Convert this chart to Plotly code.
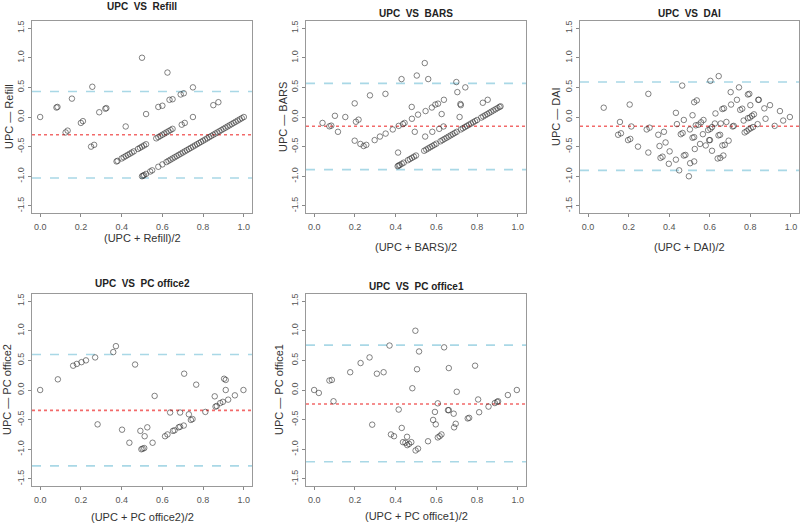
import plotly.graph_objects as go

# ---------------- DATA ----------------
titles = ["UPC  VS  Refill", "UPC  VS  BARS", "UPC  VS  DAI", "UPC  VS  PC office2", "UPC  VS  PC office1"]
x_titles = ["(UPC + Refill)/2", "(UPC + BARS)/2", "(UPC + DAI)/2", "(UPC + PC office2)/2", "(UPC + PC office1)/2"]
y_titles = ["UPC \u2014 Refill", "UPC \u2014 BARS", "UPC \u2014 DAI", "UPC \u2014 PC office2", "UPC \u2014 PC office1"]

x_tickvals = [0.0, 0.2, 0.4, 0.6, 0.8, 1.0]
x_ticktext = ["0.0", "0.2", "0.4", "0.6", "0.8", "1.0"]
y_tickvals = [-1.5, -1.0, -0.5, 0.0, 0.5, 1.0, 1.5]
y_ticktext = ["-1.5", "-1.0", "-0.5", "0.0", "0.5", "1.0", "1.5"]

# Bias (mean difference) and limits of agreement
bias = [-0.30, -0.157, -0.157, -0.343, -0.236]
upper_loa = [0.43, 0.567, 0.59, 0.60, 0.758]
lower_loa = [-1.03, -0.888, -0.90, -1.28, -1.21]

refill_mean = [0.0, 0.08, 0.085, 0.125, 0.135, 0.156, 0.20, 0.21, 0.25, 0.265, 0.256, 0.29, 0.32, 0.325,
               0.42, 0.50, 0.52, 0.625, 0.58, 0.60, 0.635, 0.65, 0.69, 0.705, 0.75, 0.75, 0.85, 0.875, 0.695, 0.71,
               0.375, 0.38, 0.40, 0.41, 0.42, 0.43, 0.44, 0.45, 0.46, 0.48, 0.49, 0.50, 0.51, 0.52,
               0.57, 0.58, 0.59, 0.60, 0.61, 0.62, 0.63, 0.64, 0.65,
               0.50, 0.505, 0.51, 0.52, 0.54, 0.55, 0.58, 0.60, 0.62, 0.63, 0.64, 0.65, 0.66, 0.67, 0.68,
               0.69, 0.70, 0.71, 0.72, 0.73, 0.74, 0.75, 0.76, 0.77, 0.78, 0.79, 0.80, 0.81, 0.82, 0.83,
               0.84, 0.85, 0.86, 0.87, 0.88, 0.89, 0.90, 0.91, 0.92, 0.93, 0.94, 0.95, 0.96, 0.97, 0.98, 0.99, 1.0]
refill_diff = [0.0, 0.16, 0.17, -0.26, -0.23, 0.31, -0.10, -0.07, -0.50, -0.47, 0.51, 0.08, 0.14, 0.15,
               -0.16, 1.0, 0.05, 0.75, 0.17, 0.19, 0.29, 0.30, 0.38, 0.40, 0.50, 0.0, 0.20, 0.25, -0.13, -0.10,
               -0.75, -0.74, -0.70, -0.68, -0.66, -0.64, -0.62, -0.60, -0.58, -0.54, -0.52, -0.50, -0.48, -0.46,
               -0.36, -0.34, -0.32, -0.30, -0.28, -0.26, -0.24, -0.22, -0.20,
               -1.0, -0.99, -0.98, -0.96, -0.92, -0.90, -0.84, -0.80, -0.76, -0.74, -0.72, -0.70, -0.68, -0.66, -0.64,
               -0.62, -0.60, -0.58, -0.56, -0.54, -0.52, -0.50, -0.48, -0.46, -0.44, -0.42, -0.40, -0.38, -0.36, -0.34,
               -0.32, -0.30, -0.28, -0.26, -0.24, -0.22, -0.20, -0.18, -0.16, -0.14, -0.12, -0.10, -0.08, -0.06, -0.04, -0.02, 0.0]

bars_mean = [0.041, 0.075, 0.084, 0.102, 0.117, 0.153, 0.199, 0.199, 0.205, 0.218, 0.227, 0.243, 0.256, 0.274,
             0.297, 0.323, 0.35, 0.351, 0.386, 0.412, 0.415, 0.429, 0.436, 0.444, 0.479, 0.48, 0.494, 0.504,
             0.51, 0.543, 0.545, 0.547, 0.56, 0.578, 0.595, 0.608, 0.58, 0.614, 0.626, 0.637, 0.635, 0.698,
             0.703, 0.718, 0.72, 0.714, 0.742, 0.828, 0.852,
             0.41, 0.415, 0.42, 0.43, 0.44, 0.46, 0.47, 0.48, 0.49, 0.50, 0.54, 0.55, 0.56, 0.57, 0.58, 0.59,
             0.60, 0.62, 0.63, 0.64, 0.65, 0.66, 0.67, 0.68, 0.69, 0.70, 0.72, 0.73, 0.74, 0.75, 0.76, 0.77,
             0.78, 0.79, 0.80, 0.82, 0.83, 0.84, 0.85, 0.86, 0.87, 0.88, 0.89, 0.90, 0.91, 0.915]
bars_diff = [-0.10, -0.157, -0.146, 0.02, -0.25, 0.0, 0.23, -0.40, -0.08, -0.045, -0.455, -0.49, -0.47, 0.365,
             -0.39, -0.33, 0.39, -0.28, -0.21, -0.60, -0.15, 0.64, -0.12, -0.10, 0.17, -0.03, -0.25, 0.70,
             0.04, 0.91, -0.33, 0.10, 0.64, 0.16, 0.21, 0.225, -0.25, -0.20, 0.05, 0.29, -0.16, 0.59,
             0.42, 0.22, 0.20, 0.0, 0.50, 0.24, 0.29,
             -0.83, -0.82, -0.81, -0.79, -0.77, -0.73, -0.71, -0.69, -0.67, -0.65, -0.57, -0.55, -0.53, -0.51, -0.49, -0.47,
             -0.45, -0.41, -0.39, -0.37, -0.35, -0.33, -0.31, -0.29, -0.27, -0.25, -0.21, -0.19, -0.17, -0.15, -0.13, -0.11,
             -0.09, -0.07, -0.05, -0.01, 0.01, 0.03, 0.05, 0.07, 0.09, 0.11, 0.13, 0.15, 0.17, 0.18]

dai_mean = [0.077, 0.157, 0.148, 0.162, 0.205, 0.197, 0.208, 0.213, 0.246, 0.297, 0.289, 0.303, 0.297, 0.346,
            0.352, 0.357, 0.367, 0.374, 0.382, 0.402, 0.398, 0.433, 0.433, 0.438, 0.449, 0.457, 0.466, 0.464,
            0.472, 0.472, 0.48, 0.497, 0.502, 0.503, 0.515, 0.515, 0.523, 0.523, 0.536, 0.523, 0.526, 0.531,
            0.544, 0.557, 0.552, 0.566, 0.569, 0.58, 0.592, 0.603, 0.611, 0.597, 0.601, 0.603, 0.611, 0.625,
            0.628, 0.639, 0.652, 0.667, 0.643, 0.651, 0.644, 0.654, 0.662, 0.67, 0.662, 0.674, 0.682, 0.693,
            0.703, 0.705, 0.713, 0.718, 0.734, 0.744, 0.75, 0.76, 0.767, 0.772, 0.782, 0.792, 0.802, 0.813,
            0.788, 0.795, 0.80, 0.788, 0.798, 0.808, 0.818, 0.836, 0.839, 0.842, 0.869, 0.875, 0.897, 0.92,
            0.946, 0.962, 0.995]
dai_diff = [0.157, -0.084, -0.30, -0.275, 0.21, -0.39, -0.37, -0.16, -0.50, 0.39, -0.21, -0.18, -0.60, -0.30,
            -0.49, -0.69, -0.67, -0.25, -0.43, -0.58, -0.79, 0.07, -0.72, -0.12, -0.90, -0.29, -0.27, 0.53,
            -0.05, -0.65, -0.64, -1.0, -0.21, -0.78, 0.03, -0.35, -0.34, 0.25, 0.28, -0.75, -0.54, -0.14,
            -0.13, -0.09, -0.455, -0.29, -0.05, -0.48, -0.22, -0.20, -0.17, -0.39, -0.39, 0.61, -0.57, -0.11,
            0.06, -0.70, -0.69, -0.65, -0.31, -0.30, 0.69, -0.11, 0.135, 0.146, -0.48, -0.47, -0.084, -0.40,
            0.42, 0.21, -0.16, -0.15, 0.29, 0.50, 0.12, 0.14, -0.06, -0.26, -0.24, -0.21, -0.19, -0.17,
            0.38, 0.39, 0.20, -0.02, -0.01, 0.02, 0.045, -0.12, 0.29, 0.29, 0.146, -0.03, 0.20, -0.15,
            0.10, -0.06, 0.0]

office2_mean = [0.0, 0.087, 0.162, 0.18, 0.203, 0.225, 0.27, 0.359, 0.372, 0.282, 0.402, 0.438, 0.466, 0.492,
                0.497, 0.503, 0.511, 0.513, 0.526, 0.552, 0.562, 0.613, 0.625, 0.638, 0.652, 0.66, 0.68, 0.687,
                0.687, 0.705, 0.707, 0.73, 0.74, 0.748, 0.766, 0.811, 0.857, 0.861, 0.867, 0.884, 0.897, 0.903,
                0.911, 0.911, 0.923, 0.956, 0.998]
office2_diff = [0.0, 0.18, 0.41, 0.44, 0.47, 0.50, 0.55, 0.64, 0.74, -0.58, -0.67, -0.89, 0.43, -0.69,
                -1.0, -0.99, -0.98, -0.78, -0.63, -0.89, -0.10, -0.78, -0.75, -0.38, -0.69, -0.68, -0.63, -0.62,
                -0.38, -0.60, 0.275, -0.41, -0.505, -0.49, 0.09, -0.37, -0.107, -0.28, -0.27, -0.22, -0.20, 0.19,
                0.17, 0.0, -0.163, -0.09, 0.0]

office1_mean = [0.0, 0.023, 0.075, 0.087, 0.095, 0.177, 0.228, 0.272, 0.285, 0.308, 0.341, 0.37, 0.377, 0.392,
                0.415, 0.43, 0.436, 0.448, 0.456, 0.457, 0.466, 0.477, 0.482, 0.497, 0.498, 0.51, 0.505, 0.515,
                0.559, 0.584, 0.593, 0.597, 0.607, 0.607, 0.616, 0.625, 0.638, 0.657, 0.661, 0.661, 0.685, 0.687,
                0.695, 0.70, 0.754, 0.761, 0.79, 0.805, 0.81, 0.856, 0.887, 0.898, 0.903, 0.951, 0.995]
office1_diff = [0.0, -0.05, 0.16, 0.17, -0.19, 0.30, 0.455, 0.55, -0.585, 0.275, 0.30, 0.75, -0.75, -0.78,
                -0.33, -0.64, -0.88, -0.89, -0.79, -0.93, -0.91, -0.88, 0.03, 1.0, -1.02, -0.99, 0.35, 0.65,
                -0.865, -0.505, -0.37, -0.58, -0.225, -0.80, -0.78, -0.75, 0.72, -0.34, -0.34, 0.37, -0.40, -0.63,
                -0.57, -0.03, -0.48, -0.47, 0.41, -0.16, -0.375, -0.28, -0.22, -0.20, -0.19, -0.085, 0.0]

all_means = [refill_mean, bars_mean, dai_mean, office2_mean, office1_mean]
all_diffs = [refill_diff, bars_diff, dai_diff, office2_diff, office1_diff]

# ---------------- LAYOUT (pixel geometry) ----------------
W, H = 800, 525
# plot boxes: (left, right, top, bottom) in px
boxes = [(32, 252, 21, 213), (306, 526, 21, 213), (580, 799, 21, 213),
         (32, 252, 294, 486), (306, 526, 294, 486)]
title_y = [7, 13, 13, 283, 286]
xtitle_y = [238, 247, 247, 517, 516]
ytitle_x = [9, 283, 556, 7, 279]

fig = go.Figure()
FONT = "Liberation Sans, Arial, sans-serif"
layout = dict(width=W, height=H, margin=dict(l=0, r=0, t=0, b=0),
              paper_bgcolor="white", plot_bgcolor="white", showlegend=False)
shapes = []
annotations = []

for i in range(5):
    n = "" if i == 0 else str(i + 1)
    L, R, T, B = boxes[i]
    fig.add_trace(go.Scatter(
        x=all_means[i], y=all_diffs[i], mode="markers",
        xaxis="x" + n, yaxis="y" + n,
        marker=dict(symbol="circle-open", size=5.5, color="rgba(50,50,50,0.6)",
                    line=dict(width=1.0, color="rgba(50,50,50,0.6)")),
        hoverinfo="x+y"))
    layout["xaxis" + n] = dict(
        domain=[L / W, R / W], range=[-0.04, 1.04], anchor="y" + n,
        tickvals=x_tickvals, ticktext=x_ticktext, ticks="outside", ticklen=3,
        tickcolor="#888", showline=True, linecolor="#999", mirror=True, linewidth=1,
        showgrid=False, zeroline=False, tickfont=dict(family=FONT, size=9, color="#555"),
        ticklabelstandoff=2)
    layout["yaxis" + n] = dict(
        domain=[1 - B / H, 1 - T / H], range=[-1.62, 1.62], anchor="x" + n,
        tickvals=y_tickvals, ticktext=y_ticktext, ticks="outside", ticklen=3,
        tickcolor="#888", showline=True, linecolor="#999", mirror=True, linewidth=1,
        showgrid=False, zeroline=False, tickangle=-90,
        tickfont=dict(family=FONT, size=9, color="#555"))
    xr = "x" + n + " domain"
    yr = "y" + n
    shapes.append(dict(type="line", xref=xr, yref=yr, x0=0, x1=1, y0=upper_loa[i], y1=upper_loa[i],
                       line=dict(color="#a9d8e6", width=1.6, dash="dash"), layer="below"))
    shapes.append(dict(type="line", xref=xr, yref=yr, x0=0, x1=1, y0=lower_loa[i], y1=lower_loa[i],
                       line=dict(color="#a9d8e6", width=1.6, dash="dash"), layer="below"))
    shapes.append(dict(type="line", xref=xr, yref=yr, x0=0, x1=1, y0=bias[i], y1=bias[i],
                       line=dict(color="#f26a6a", width=1.6, dash="dot"), layer="below"))
    cx = (L + R) / 2 / W
    annotations.append(dict(text="<b>" + titles[i] + "</b>", x=cx, y=1 - title_y[i] / H,
                            xref="paper", yref="paper", showarrow=False, xanchor="center", yanchor="middle",
                            font=dict(family=FONT, size=10, color="#222")))
    annotations.append(dict(text=x_titles[i], x=cx, y=1 - xtitle_y[i] / H,
                            xref="paper", yref="paper", showarrow=False, xanchor="center", yanchor="middle",
                            font=dict(family=FONT, size=11, color="#333")))
    annotations.append(dict(text=y_titles[i], x=ytitle_x[i] / W, y=1 - ((T + B) / 2) / H,
                            xref="paper", yref="paper", showarrow=False, xanchor="center", yanchor="middle",
                            textangle=-90, font=dict(family=FONT, size=11, color="#333")))

layout["shapes"] = shapes
layout["annotations"] = annotations
fig.update_layout(**layout)
fig.write_html("out.html", config={"displayModeBar": False},
               post_script="document.body.style.margin='0';document.body.style.overflow='hidden';")
